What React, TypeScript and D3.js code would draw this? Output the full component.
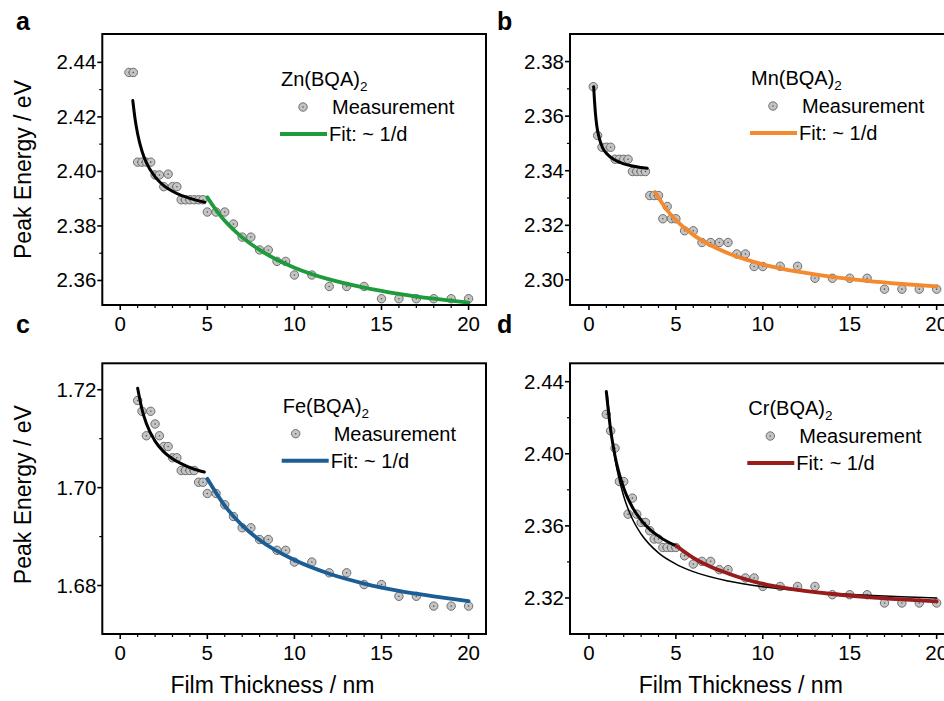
import React from 'react';
import * as d3 from 'd3';

// ---------------- data ----------------
const xTicks = [0, 5, 10, 15, 20];
const xMinorTicks = [1, 2, 3, 4, 6, 7, 8, 9, 11, 12, 13, 14, 16, 17, 18, 19];

// Panel a: Zn(BQA)2
const znTicks = [2.36, 2.38, 2.4, 2.42, 2.44];
const znMinor = [2.37, 2.39, 2.41, 2.43];
const znD = [0.5, 0.75, 1.0, 1.25, 1.5, 1.75, 2.0, 2.25, 2.5, 2.75, 3.0, 3.25, 3.5, 3.75, 4.0, 4.25, 4.5, 4.75, 5.0, 5.5, 6.0, 6.5, 7.0, 7.5, 8.0, 8.5, 9.0, 9.5, 10, 11, 12, 13, 14, 15, 16, 17, 18, 19, 20];
const znE = [2.4363, 2.4363, 2.4034, 2.4034, 2.4034, 2.4034, 2.3987, 2.3987, 2.3944, 2.399, 2.3944, 2.3944, 2.3896, 2.3896, 2.3896, 2.3896, 2.3896, 2.3896, 2.3851, 2.3851, 2.3851, 2.3807, 2.3759, 2.3759, 2.3712, 2.3712, 2.367, 2.367, 2.362, 2.362, 2.3578, 2.3578, 2.3578, 2.3533, 2.3533, 2.3533, 2.3533, 2.3533, 2.3533];
const znFitThinD = [0.72, 0.85, 1.0, 1.25, 1.5, 2.0, 2.5, 3.0, 3.5, 4.0, 4.5, 4.85];
const znFitThinE = [2.426, 2.4193, 2.4137, 2.4074, 2.4032, 2.398, 2.3948, 2.3927, 2.3912, 2.3901, 2.3892, 2.3887];
const znFitD = [5, 5.5, 6, 7, 8, 9, 10, 12, 14, 16, 18, 20];
const znFitE = [2.3905, 2.3858, 2.3819, 2.3758, 2.3712, 2.3676, 2.3647, 2.3604, 2.3574, 2.3551, 2.3533, 2.3519];

// Panel b: Mn(BQA)2
const mnTicks = [2.3, 2.32, 2.34, 2.36, 2.38];
const mnMinor = [2.31, 2.33, 2.35, 2.37];
const mnD = [0.25, 0.5, 0.75, 1.0, 1.25, 1.5, 1.75, 2.0, 2.25, 2.5, 2.75, 3.0, 3.25, 3.5, 3.75, 4.0, 4.25, 4.5, 4.75, 5.0, 5.5, 6.0, 6.5, 7.0, 7.5, 8.0, 8.5, 9.0, 9.5, 10, 11, 12, 13, 14, 15, 16, 17, 18, 19, 20];
const mnE = [2.3708, 2.3529, 2.3486, 2.3486, 2.3486, 2.3442, 2.3442, 2.3442, 2.3442, 2.3397, 2.3397, 2.3397, 2.3397, 2.3309, 2.3309, 2.3309, 2.3224, 2.3269, 2.3224, 2.3224, 2.318, 2.318, 2.3137, 2.3137, 2.3137, 2.3137, 2.3095, 2.3095, 2.3049, 2.3049, 2.305, 2.305, 2.3006, 2.3006, 2.3006, 2.3006, 2.2966, 2.2966, 2.2966, 2.2966];
const mnFitThinD = [0.27, 0.32, 0.37, 0.45, 0.6, 0.8, 1.0, 1.5, 2.0, 2.5, 3.0, 3.35];
const mnFitThinE = [2.3708, 2.3655, 2.3612, 2.3565, 2.3518, 2.3482, 2.3464, 2.3439, 2.3425, 2.3417, 2.3412, 2.3409];
const mnFitD = [3.8, 4.5, 5, 6, 7, 8, 10, 12, 14, 16, 18, 20];
const mnFitE = [2.3322, 2.3255, 2.3219, 2.3165, 2.3127, 2.3098, 2.3057, 2.303, 2.3011, 2.2996, 2.2985, 2.2976];

// Panel c: Fe(BQA)2
const feTicks = [1.68, 1.7, 1.72];
const feMinor = [1.69, 1.71];
const feD = [1.0, 1.25, 1.5, 1.75, 2.0, 2.25, 2.5, 2.75, 3.0, 3.25, 3.5, 3.75, 4.0, 4.25, 4.5, 4.75, 5.0, 5.5, 6.0, 6.5, 7.0, 7.5, 8.0, 8.5, 9.0, 9.5, 10, 11, 12, 13, 14, 15, 16, 17, 18, 19, 20];
const feE = [1.7178, 1.7156, 1.7106, 1.7156, 1.713, 1.7106, 1.7084, 1.7084, 1.7061, 1.7061, 1.7035, 1.7035, 1.7035, 1.7035, 1.7011, 1.7011, 1.6988, 1.6988, 1.6965, 1.6941, 1.6918, 1.6918, 1.6894, 1.6894, 1.6872, 1.6872, 1.6848, 1.6848, 1.6826, 1.6826, 1.6802, 1.6802, 1.6778, 1.6778, 1.6758, 1.6758, 1.6758];
const feFitThinD = [1.0, 1.25, 1.5, 2.0, 2.5, 3.0, 3.5, 4.0, 4.5, 4.83];
const feFitThinE = [1.7203, 1.716, 1.7131, 1.7095, 1.7073, 1.7059, 1.7049, 1.7041, 1.7035, 1.7032];
const feFitD = [5, 6, 7, 8, 10, 12, 14, 16, 18, 20];
const feFitE = [1.7018, 1.6963, 1.6923, 1.6893, 1.6852, 1.6824, 1.6804, 1.6789, 1.6778, 1.6768];

// Panel d: Cr(BQA)2
const crTicks = [2.32, 2.36, 2.4, 2.44];
const crMinor = [2.34, 2.38, 2.42];
const crD = [1.0, 1.25, 1.5, 1.75, 2.0, 2.25, 2.5, 2.75, 3.0, 3.25, 3.5, 3.75, 4.0, 4.25, 4.5, 4.75, 5.0, 5.5, 6.0, 6.5, 7.0, 7.5, 8.0, 9.0, 9.5, 10, 11, 12, 13, 14, 15, 16, 17, 18, 19, 20];
const crE = [2.4219, 2.4127, 2.4031, 2.3846, 2.3846, 2.3665, 2.3754, 2.3665, 2.3619, 2.3619, 2.3573, 2.3527, 2.3527, 2.348, 2.348, 2.348, 2.348, 2.3434, 2.3388, 2.3403, 2.3403, 2.3357, 2.3357, 2.3311, 2.3311, 2.3264, 2.3264, 2.3264, 2.3264, 2.3218, 2.3218, 2.3218, 2.3172, 2.3172, 2.3172, 2.3172];
const crFitThickD = [1.0, 1.25, 1.5, 2.0, 2.5, 3.0, 3.5, 4.0, 4.5, 5.05];
const crFitThickE = [2.4345, 2.4131, 2.3988, 2.381, 2.3703, 2.3632, 2.3581, 2.3543, 2.3513, 2.3487];
const crFitAllD = [1.05, 1.25, 1.5, 2, 2.5, 3, 4, 5, 6, 8, 10, 12, 14, 16, 18, 20];
const crFitAllE = [2.433, 2.414, 2.3972, 2.3764, 2.3638, 2.3555, 2.345, 2.3388, 2.3346, 2.3294, 2.3262, 2.3241, 2.3226, 2.3215, 2.3207, 2.32];
const crFitD = [5.05, 6, 7, 8, 10, 12, 14, 16, 18, 20];
const crFitE = [2.3487, 2.3423, 2.3373, 2.3336, 2.3278, 2.3245, 2.3222, 2.3205, 2.3192, 2.3181];

// ---------------- layout ----------------
const W = 944;
const H = 701;
const FONT = "'Liberation Sans', Arial, sans-serif";

type Fit = { d: number[]; e: number[]; color: string; width: number };
type PanelProps = {
  left: number; right: number; top: number; bottom: number;
  xDomain: [number, number]; yDomain: [number, number];
  yTicks: number[]; yMinor: number[];
  d: number[]; e: number[];
  fits: Fit[];
  metal: string; fitColor: string;
  legX: number; legY: number; markerDx: number;
  letter: string; letterX: number; letterY: number;
  xTitle: boolean;
};

function Panel(p: PanelProps) {
  const x = d3.scaleLinear().domain(p.xDomain).range([p.left, p.right]);
  const y = d3.scaleLinear().domain(p.yDomain).range([p.bottom, p.top]);
  const fmt = d3.format('.2f');
  const mkLine = (ds: number[], es: number[]) =>
    d3.line<number>().x((v) => x(v)).y((_, i) => y(es[i])).curve(d3.curveMonotoneX)(ds) || '';
  return (
    <g>
      <text x={p.letterX} y={p.letterY} fontFamily={FONT} fontWeight="bold" fontSize={25}>{p.letter}</text>
      {/* points */}
      {p.d.map((dv, i) => (
        <g key={'p' + i}>
          <circle cx={x(dv)} cy={y(p.e[i])} r={4.2} fill="#c4c4c4" stroke="#6e6e6e" strokeWidth={1} />
          <circle cx={x(dv)} cy={y(p.e[i])} r={0.8} fill="#555" />
        </g>
      ))}
      {/* fits */}
      {p.fits.map((f, i) => (
        <path key={'f' + i} d={mkLine(f.d, f.e)} fill="none" stroke={f.color} strokeWidth={f.width} strokeLinecap="round" />
      ))}
      {/* frame */}
      <rect x={p.left} y={p.top} width={p.right - p.left} height={p.bottom - p.top} fill="none" stroke="#000" strokeWidth={2} />
      {/* y ticks */}
      {p.yTicks.map((t) => (
        <g key={'y' + t}>
          <line x1={p.left - 5} x2={p.left} y1={y(t)} y2={y(t)} stroke="#000" strokeWidth={1.6} />
          <text x={p.left - 6} y={y(t) + 7} textAnchor="end" fontFamily={FONT} fontSize={20.5}>{fmt(t)}</text>
        </g>
      ))}
      {p.yMinor.map((t) => (
        <line key={'ym' + t} x1={p.left - 3} x2={p.left} y1={y(t)} y2={y(t)} stroke="#000" strokeWidth={1.2} />
      ))}
      {/* x ticks */}
      {xTicks.map((t) => (
        <g key={'x' + t}>
          <line x1={x(t)} x2={x(t)} y1={p.bottom} y2={p.bottom + 5} stroke="#000" strokeWidth={1.6} />
          <text x={x(t)} y={p.bottom + 26} textAnchor="middle" fontFamily={FONT} fontSize={20.5}>{t}</text>
        </g>
      ))}
      {xMinorTicks.map((t) => (
        <line key={'xm' + t} x1={x(t)} x2={x(t)} y1={p.bottom} y2={p.bottom + 3} stroke="#000" strokeWidth={1.2} />
      ))}
      {p.xTitle && (
        <text x={x(10) - 22} y={p.bottom + 59} textAnchor="middle" fontFamily={FONT} fontSize={23}>Film Thickness / nm</text>
      )}
      {/* legend */}
      <text x={p.legX} y={p.legY} fontFamily={FONT} fontSize={20}>
        {p.metal}(BQA)<tspan fontSize={13.5} dy={5}>2</tspan>
      </text>
      <circle cx={p.legX + p.markerDx} cy={p.legY + 21} r={4.2} fill="#c4c4c4" stroke="#6e6e6e" strokeWidth={1} />
      <circle cx={p.legX + p.markerDx} cy={p.legY + 21} r={0.8} fill="#555" />
      <text x={p.legX + 51} y={p.legY + 28} fontFamily={FONT} fontSize={20}>Measurement</text>
      <line x1={p.legX - 1} x2={p.legX + 46} y1={p.legY + 48} y2={p.legY + 48} stroke={p.fitColor} strokeWidth={4} />
      <text x={p.legX + 48} y={p.legY + 55} fontFamily={FONT} fontSize={20}>Fit: ~ 1/d</text>
    </g>
  );
}

export default function App() {
  const L1 = 102.3, R1 = 486, L2 = 570, R2 = 953.7;
  const T1 = 34, B1 = 305, T2 = 363.3, B2 = 634;
  const xA: [number, number] = [-1.03, 21.0];
  const xB: [number, number] = [-1.09, 20.98];
  return (
    <svg width={W} height={H} viewBox={`0 0 ${W} ${H}`} style={{ position: 'absolute', left: 0, top: 0, background: '#fff' }}>
      <rect x={0} y={0} width={W} height={H} fill="#fff" />
      <Panel left={L1} right={R1} top={T1} bottom={B1} xDomain={xA} yDomain={[2.351, 2.4504]}
        yTicks={znTicks} yMinor={znMinor} d={znD} e={znE}
        fits={[{ d: znFitThinD, e: znFitThinE, color: '#000', width: 3 }, { d: znFitD, e: znFitE, color: '#1e9b3c', width: 3.8 }]}
        metal="Zn" fitColor="#1e9b3c" legX={281} legY={86} markerDx={22} letter="a" letterX={16} letterY={30} xTitle={false} />
      <Panel left={L2} right={R2} top={T1} bottom={B1} xDomain={xB} yDomain={[2.2908, 2.3901]}
        yTicks={mnTicks} yMinor={mnMinor} d={mnD} e={mnE}
        fits={[{ d: mnFitThinD, e: mnFitThinE, color: '#000', width: 3 }, { d: mnFitD, e: mnFitE, color: '#f5892e', width: 3.8 }]}
        metal="Mn" fitColor="#f5892e" legX={751} legY={85} markerDx={22} letter="b" letterX={497} letterY={30} xTitle={false} />
      <Panel left={L1} right={R1} top={T2} bottom={B2} xDomain={xA} yDomain={[1.6701, 1.7254]}
        yTicks={feTicks} yMinor={feMinor} d={feD} e={feE}
        fits={[{ d: feFitThinD, e: feFitThinE, color: '#000', width: 3 }, { d: feFitD, e: feFitE, color: '#1b5e96', width: 3.8 }]}
        metal="Fe" fitColor="#1b5e96" legX={282.7} legY={412.7} markerDx={13} letter="c" letterX={16} letterY={333} xTitle={true} />
      <Panel left={L2} right={R2} top={T2} bottom={B2} xDomain={xB} yDomain={[2.3, 2.4502]}
        yTicks={crTicks} yMinor={crMinor} d={crD} e={crE}
        fits={[{ d: crFitAllD, e: crFitAllE, color: '#000', width: 1.5 }, { d: crFitThickD, e: crFitThickE, color: '#000', width: 3 }, { d: crFitD, e: crFitE, color: '#981c1c', width: 3.8 }]}
        metal="Cr" fitColor="#981c1c" legX={748.3} legY={415} markerDx={22} letter="d" letterX={497} letterY={333} xTitle={true} />
      <text transform={`translate(31,${(T1 + B1) / 2}) rotate(-90)`} textAnchor="middle" fontFamily={FONT} fontSize={23}>Peak Energy / eV</text>
      <text transform={`translate(31,${(T2 + B2) / 2 - 4}) rotate(-90)`} textAnchor="middle" fontFamily={FONT} fontSize={23}>Peak Energy / eV</text>
    </svg>
  );
}
